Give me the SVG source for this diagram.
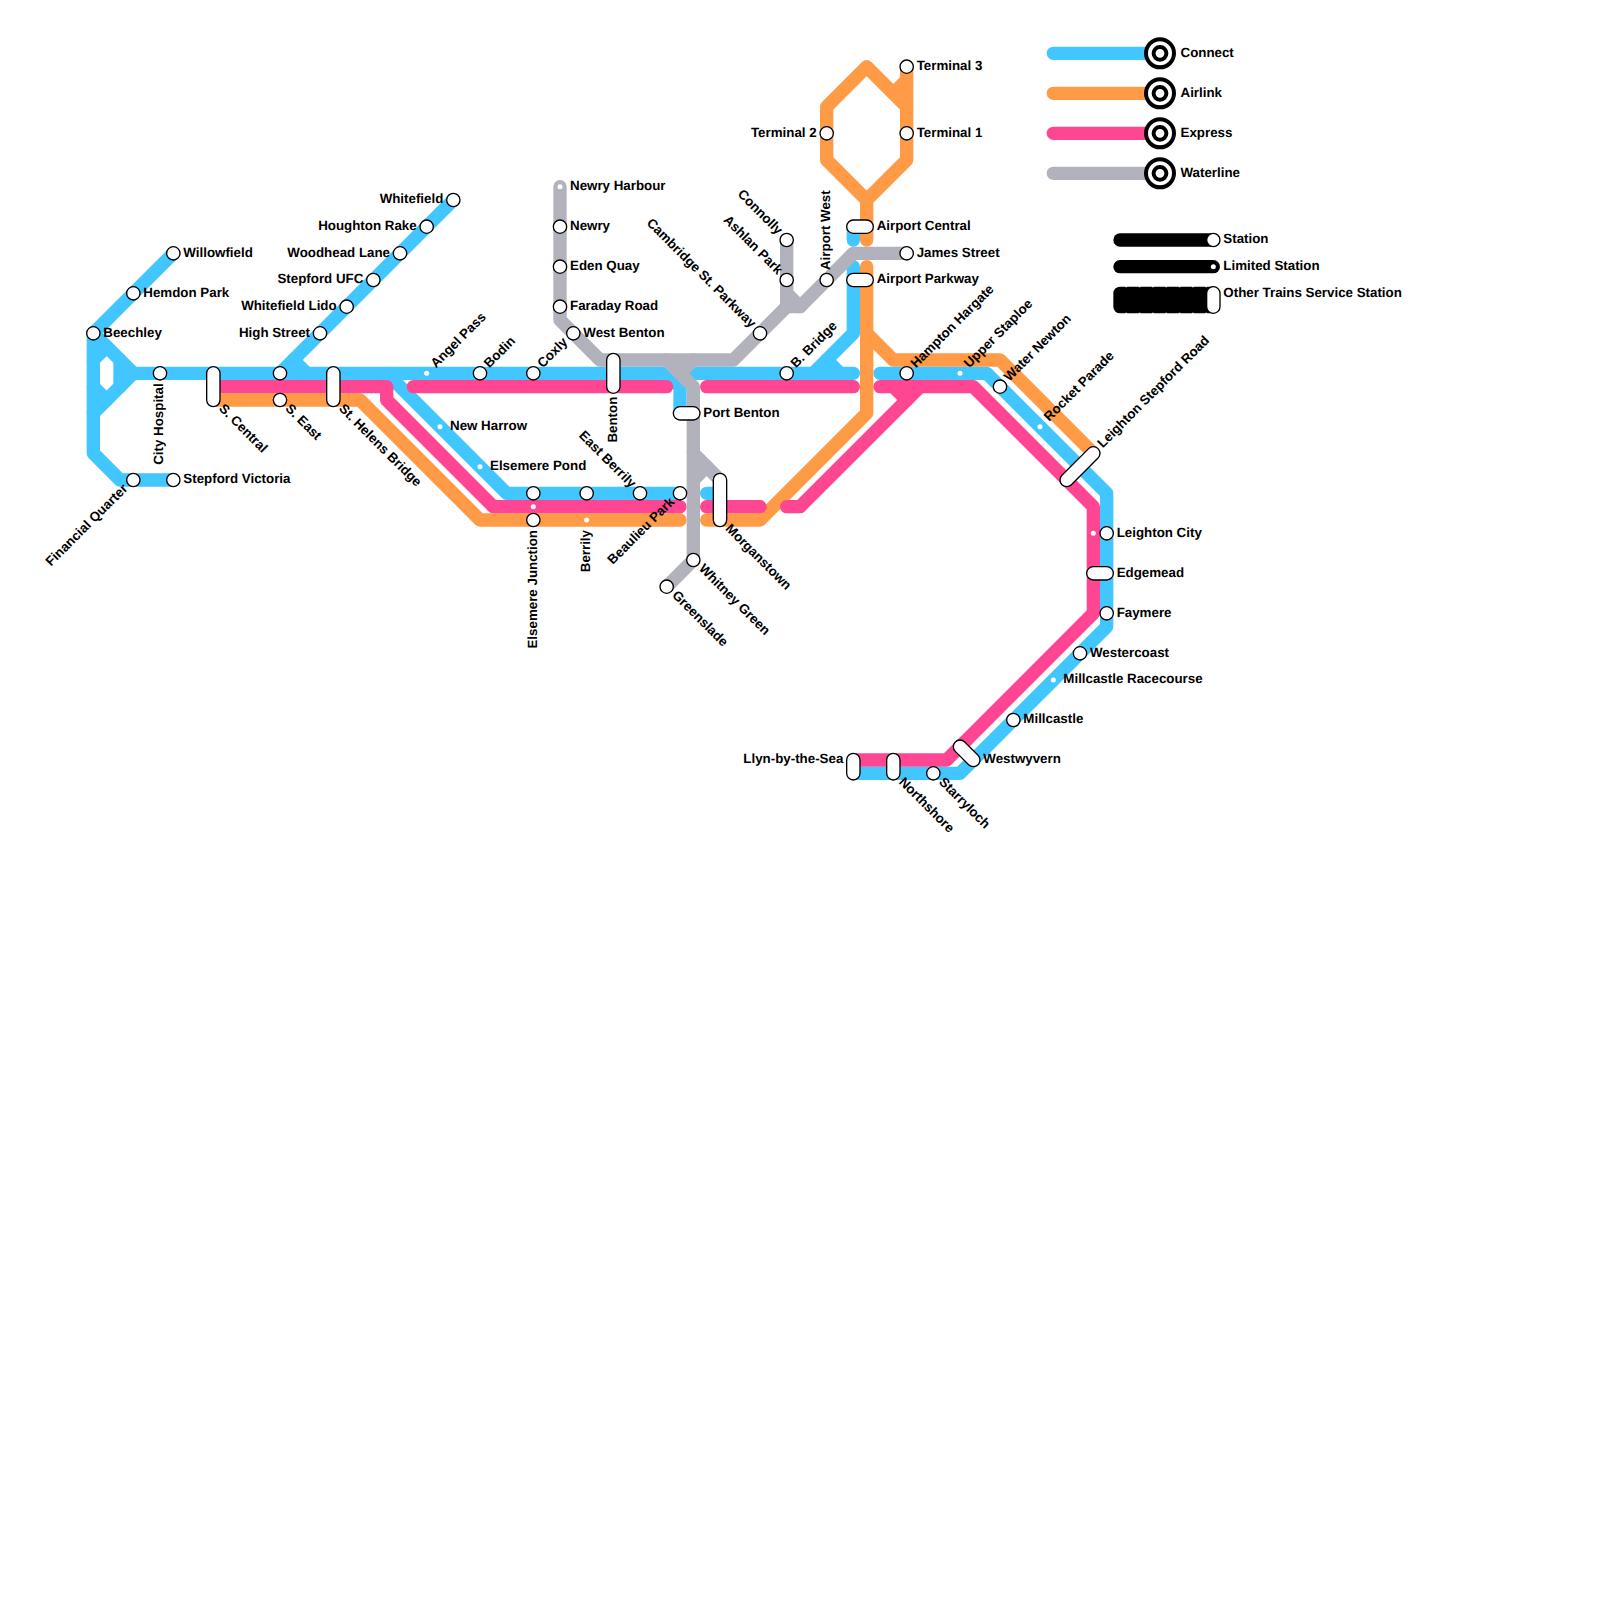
<svg xmlns="http://www.w3.org/2000/svg" width="1600" height="1600" viewBox="0 0 1600 1600">
<style>
.l{fill:none;stroke-width:13.33;stroke-linecap:round;stroke-linejoin:round}
.b{stroke:#42c6ff}.o{stroke:#ff9a47}.p{stroke:#ff4692}.g{stroke:#b2b2bc}.k{stroke:#000}
.s{fill:#fff;stroke:#000;stroke-width:1.33}
.d{fill:#fff}
.t{fill:#fff;stroke:#000;stroke-width:4}
text{font-family:"Liberation Sans",Arial,sans-serif;font-size:13.33px;font-weight:700;fill:#000;text-rendering:geometricPrecision}
.e{text-anchor:end}
</style>
<rect width="1600" height="1600" fill="#fff"/>
<g id="connectors">
<g id="line-connect">
<path class="l b" d="M173.33 253.33L93.33 333.33V453.33L120 480H173.33"/>
<path class="l b" d="M93.33 333.33L133.33 373.33H666.67L680 386.67V413.33"/>
<path class="l b" d="M93.33 413.33L133.33 373.33"/>
<path class="l b" d="M120 360V386.67"/>
<path class="l b" d="M93.33 360L106.67 346.67"/>
<path class="l b" d="M93.33 386.67L106.67 400"/>
<path class="l b" d="M453.33 200L280 373.33"/>
<path class="l b" d="M293.33 360L306.67 373.33"/>
<path class="l b" d="M386.67 373.33L506.67 493.33H680"/>
<path class="l b" d="M706.67 493.33H720"/>
<path class="l b" d="M693.33 373.33H853.33"/>
<path class="l b" d="M813.33 373.33L853.33 333.33V266.67"/>
<path class="l b" d="M826.67 360L840 373.33"/>
<path class="l b" d="M853.33 226.67V240"/>
<path class="l b" d="M880 373.33H986.67L1106.67 493.33V626.67L960 773.33H853.33"/>
</g>
<g id="line-airlink">
<path class="l o" d="M213.33 400H360L480 520H680"/>
<path class="l o" d="M706.67 520H760L866.67 413.33V266.67"/>
<path class="l o" d="M866.67 333.33L893.33 360H1000L1093.33 453.33"/>
<path class="l o" d="M866.67 240V200L826.67 160V106.67L866.67 66.67L906.67 106.67V160L866.67 200"/>
<path class="l o" d="M906.67 66.67V106.67"/>
<path class="l o" d="M906.67 80L893.33 93.33"/>
</g>
<g id="line-express">
<path class="l p" d="M213.33 386.67H386.67V400L493.33 506.67H680"/>
<path class="l p" d="M413.33 386.67H666.67"/>
<path class="l p" d="M706.67 386.67H853.33"/>
<path class="l p" d="M706.67 506.67H760"/>
<path class="l p" d="M786.67 506.67H800L920 386.67"/>
<path class="l p" d="M880 386.67H973.33L1093.33 506.67V613.33L946.67 760H853.33"/>
<path class="l p" d="M893.33 386.67L906.67 400"/>
</g>
<g id="line-waterline">
<path class="l g" d="M560 186.67V320L600 360H733.33L786.67 306.67H800L853.33 253.33H906.67"/>
<path class="l g" d="M786.67 240V306.67"/>
<path class="l g" d="M786.67 293.33L800 306.67"/>
<path class="l g" d="M666.67 360L693.33 386.67V560L666.67 586.67"/>
<path class="l g" d="M693.33 360L680 373.33"/>
<path class="l g" d="M693.33 453.33L720 480"/>
<path class="l g" d="M706.67 466.67L693.33 480"/>
</g>
</g>
<g id="legend-lines">
<path class="l b" d="M1053.33 53.33H1160"/>
<path class="l o" d="M1053.33 93.33H1160"/>
<path class="l p" d="M1053.33 133.33H1160"/>
<path class="l g" d="M1053.33 173.33H1160"/>
<path class="l k" d="M1120 240H1213.33"/>
<path class="l k" d="M1120 266.67H1213.33"/>
<path class="l k" d="M1120 293.33H1213.33V306.67H1120Z"/>
<path fill="none" stroke="#fff" stroke-width="1.2" stroke-dasharray="1.6 11.73" d="M1125.5 286.67H1213M1125.5 313.33H1213"/>
</g>
<g id="legend-connect"><circle class="t" cx="1160" cy="53.33" r="14"/><circle class="t" cx="1160" cy="53.33" r="6.4"/><text x="1180.5" y="56.5">Connect</text></g>
<g id="legend-airlink"><circle class="t" cx="1160" cy="93.33" r="14"/><circle class="t" cx="1160" cy="93.33" r="6.4"/><text x="1180.5" y="96.5">Airlink</text></g>
<g id="legend-express"><circle class="t" cx="1160" cy="133.33" r="14"/><circle class="t" cx="1160" cy="133.33" r="6.4"/><text x="1180.5" y="136.5">Express</text></g>
<g id="legend-waterline"><circle class="t" cx="1160" cy="173.33" r="14"/><circle class="t" cx="1160" cy="173.33" r="6.4"/><text x="1180.5" y="176.5">Waterline</text></g>
<g id="legend-station"><circle class="s" cx="1213.33" cy="240" r="6.67"/><text x="1223.33" y="243.2">Station</text></g>
<g id="legend-limited"><circle class="d" cx="1213.33" cy="266.67" r="2.5"/><text x="1223.33" y="269.9">Limited Station</text></g>
<g id="legend-other"><rect class="s" x="1206.67" y="286.67" width="13.33" height="26.67" rx="6.67"/><text x="1223.33" y="296.5">Other Trains Service Station</text></g>

<g id="beechley"><circle class="s" cx="93.33" cy="333.33" r="6.67"/><text x="103.33" y="336.5">Beechley</text></g>
<g id="hemdon-park"><circle class="s" cx="133.33" cy="293.33" r="6.67"/><text x="143.33" y="296.5">Hemdon Park</text></g>
<g id="willowfield"><circle class="s" cx="173.33" cy="253.33" r="6.67"/><text x="183.33" y="256.5">Willowfield</text></g>
<g id="city-hospital"><circle class="s" cx="160" cy="373.33" r="6.67"/><text class="e" transform="rotate(-90 160 373.33)" x="150" y="376.5">City Hospital</text></g>
<g id="financial-quarter"><circle class="s" cx="133.33" cy="480" r="6.67"/><text class="e" transform="rotate(-45 133.33 480)" x="123.33" y="483.2">Financial Quarter</text></g>
<g id="stepford-victoria"><circle class="s" cx="173.33" cy="480" r="6.67"/><text x="183.33" y="483.2">Stepford Victoria</text></g>
<g id="s-central"><rect class="s" x="206.67" y="366.67" width="13.33" height="40" rx="6.67"/><text transform="rotate(45 213.33 400)" x="223.33" y="403.2">S. Central</text></g>
<g id="s-east"><circle class="s" cx="280" cy="373.33" r="6.67"/><circle class="s" cx="280" cy="400" r="6.67"/><text transform="rotate(45 280 400)" x="290" y="403.2">S. East</text></g>
<g id="st-helens-bridge"><rect class="s" x="326.67" y="366.67" width="13.33" height="40" rx="6.67"/><text transform="rotate(45 333.33 400)" x="343.33" y="403.2">St. Helens Bridge</text></g>
<g id="high-street"><circle class="s" cx="320" cy="333.33" r="6.67"/><text class="e" x="310" y="336.5">High Street</text></g>
<g id="whitefield-lido"><circle class="s" cx="346.67" cy="306.67" r="6.67"/><text class="e" x="336.67" y="309.9">Whitefield Lido</text></g>
<g id="stepford-ufc"><circle class="s" cx="373.33" cy="280" r="6.67"/><text class="e" x="363.33" y="283.2">Stepford UFC</text></g>
<g id="woodhead-lane"><circle class="s" cx="400" cy="253.33" r="6.67"/><text class="e" x="390" y="256.5">Woodhead Lane</text></g>
<g id="houghton-rake"><circle class="s" cx="426.67" cy="226.67" r="6.67"/><text class="e" x="416.67" y="229.9">Houghton Rake</text></g>
<g id="whitefield"><circle class="s" cx="453.33" cy="200" r="6.67"/><text class="e" x="443.33" y="203.2">Whitefield</text></g>
<g id="angel-pass"><circle class="d" cx="426.67" cy="373.33" r="2.5"/><text transform="rotate(-45 426.67 373.33)" x="436.67" y="376.5">Angel Pass</text></g>
<g id="new-harrow"><circle class="d" cx="440" cy="426.67" r="2.5"/><text x="450" y="429.9">New Harrow</text></g>
<g id="elsemere-pond"><circle class="d" cx="480" cy="466.67" r="2.5"/><text x="490" y="469.9">Elsemere Pond</text></g>
<g id="bodin"><circle class="s" cx="480" cy="373.33" r="6.67"/><text transform="rotate(-45 480 373.33)" x="490" y="376.5">Bodin</text></g>
<g id="coxly"><circle class="s" cx="533.33" cy="373.33" r="6.67"/><text transform="rotate(-45 533.33 373.33)" x="543.33" y="376.5">Coxly</text></g>
<g id="elsemere-junction"><circle class="s" cx="533.33" cy="493.33" r="6.67"/><circle class="d" cx="533.33" cy="506.67" r="2.5"/><circle class="s" cx="533.33" cy="520" r="6.67"/><text class="e" transform="rotate(-90 533.33 520)" x="523.33" y="523.2">Elsemere Junction</text></g>
<g id="berrily"><circle class="s" cx="586.67" cy="493.33" r="6.67"/><circle class="d" cx="586.67" cy="520" r="2.5"/><text class="e" transform="rotate(-90 586.67 520)" x="576.67" y="523.2">Berrily</text></g>
<g id="east-berrily"><circle class="s" cx="640" cy="493.33" r="6.67"/><text class="e" transform="rotate(45 640 493.33)" x="630" y="496.5">East Berrily</text></g>
<g id="beaulieu-park"><circle class="s" cx="680" cy="493.33" r="6.67"/><text class="e" transform="rotate(-45 680 493.33)" x="670" y="496.5">Beaulieu Park</text></g>
<g id="benton"><rect class="s" x="606.67" y="353.33" width="13.33" height="40" rx="6.67"/><text class="e" transform="rotate(-90 613.33 386.67)" x="603.33" y="389.9">Benton</text></g>
<g id="port-benton"><rect class="s" x="673.33" y="406.67" width="26.67" height="13.33" rx="6.67"/><text x="703.33" y="416.5">Port Benton</text></g>
<g id="whitney-green"><circle class="s" cx="693.33" cy="560" r="6.67"/><text transform="rotate(45 693.33 560)" x="703.33" y="563.2">Whitney Green</text></g>
<g id="greenslade"><circle class="s" cx="666.67" cy="586.67" r="6.67"/><text transform="rotate(45 666.67 586.67)" x="676.67" y="589.9">Greenslade</text></g>
<g id="morganstown"><rect class="s" x="713.33" y="473.33" width="13.33" height="53.33" rx="6.67"/><text transform="rotate(45 720 520)" x="730" y="523.2">Morganstown</text></g>
<g id="b-bridge"><circle class="s" cx="786.67" cy="373.33" r="6.67"/><text transform="rotate(-45 786.67 373.33)" x="796.67" y="376.5">B. Bridge</text></g>
<g id="newry-harbour"><circle class="d" cx="560" cy="186.67" r="2.5"/><text x="570" y="189.9">Newry Harbour</text></g>
<g id="newry"><circle class="s" cx="560" cy="226.67" r="6.67"/><text x="570" y="229.9">Newry</text></g>
<g id="eden-quay"><circle class="s" cx="560" cy="266.67" r="6.67"/><text x="570" y="269.9">Eden Quay</text></g>
<g id="faraday-road"><circle class="s" cx="560" cy="306.67" r="6.67"/><text x="570" y="309.9">Faraday Road</text></g>
<g id="west-benton"><circle class="s" cx="573.33" cy="333.33" r="6.67"/><text x="583.33" y="336.5">West Benton</text></g>
<g id="cambridge-st-parkway"><circle class="s" cx="760" cy="333.33" r="6.67"/><text class="e" transform="rotate(45 760 333.33)" x="750" y="336.5">Cambridge St. Parkway</text></g>
<g id="connolly"><circle class="s" cx="786.67" cy="240" r="6.67"/><text class="e" transform="rotate(45 786.67 240)" x="776.67" y="243.2">Connolly</text></g>
<g id="ashlan-park"><circle class="s" cx="786.67" cy="280" r="6.67"/><text class="e" transform="rotate(45 786.67 280)" x="776.67" y="283.2">Ashlan Park</text></g>
<g id="airport-west"><circle class="s" cx="826.67" cy="280" r="6.67"/><text transform="rotate(-90 826.67 280)" x="836.67" y="283.2">Airport West</text></g>
<g id="terminal-2"><circle class="s" cx="826.67" cy="133.33" r="6.67"/><text class="e" x="816.67" y="136.5">Terminal 2</text></g>
<g id="terminal-1"><circle class="s" cx="906.67" cy="133.33" r="6.67"/><text x="916.67" y="136.5">Terminal 1</text></g>
<g id="terminal-3"><circle class="s" cx="906.67" cy="66.67" r="6.67"/><text x="916.67" y="69.9">Terminal 3</text></g>
<g id="airport-central"><rect class="s" x="846.67" y="220" width="26.67" height="13.33" rx="6.67"/><text x="876.67" y="229.9">Airport Central</text></g>
<g id="james-street"><circle class="s" cx="906.67" cy="253.33" r="6.67"/><text x="916.67" y="256.5">James Street</text></g>
<g id="airport-parkway"><rect class="s" x="846.67" y="273.33" width="26.67" height="13.33" rx="6.67"/><text x="876.67" y="283.2">Airport Parkway</text></g>
<g id="hampton-hargate"><circle class="s" cx="906.67" cy="373.33" r="6.67"/><text transform="rotate(-45 906.67 373.33)" x="916.67" y="376.5">Hampton Hargate</text></g>
<g id="upper-staploe"><circle class="d" cx="960" cy="373.33" r="2.5"/><text transform="rotate(-45 960 373.33)" x="970" y="376.5">Upper Staploe</text></g>
<g id="water-newton"><circle class="s" cx="1000" cy="386.67" r="6.67"/><text transform="rotate(-45 1000 386.67)" x="1010" y="389.9">Water Newton</text></g>
<g id="rocket-parade"><circle class="d" cx="1040" cy="426.67" r="2.5"/><text transform="rotate(-45 1040 426.67)" x="1050" y="429.9">Rocket Parade</text></g>
<g id="leighton-stepford-road"><rect class="s" x="1054.48" y="460" width="51.04" height="13.33" rx="6.67" transform="rotate(-45 1080 466.67)"/><text transform="rotate(-45 1093.33 453.33)" x="1103.33" y="456.5">Leighton Stepford Road</text></g>
<g id="leighton-city"><circle class="d" cx="1093.33" cy="533.33" r="2.5"/><circle class="s" cx="1106.67" cy="533.33" r="6.67"/><text x="1116.67" y="536.5">Leighton City</text></g>
<g id="edgemead"><rect class="s" x="1086.67" y="566.67" width="26.67" height="13.33" rx="6.67"/><text x="1116.67" y="576.5">Edgemead</text></g>
<g id="faymere"><circle class="s" cx="1106.67" cy="613.33" r="6.67"/><text x="1116.67" y="616.5">Faymere</text></g>
<g id="westercoast"><circle class="s" cx="1080" cy="653.33" r="6.67"/><text x="1090" y="656.5">Westercoast</text></g>
<g id="millcastle-racecourse"><circle class="d" cx="1053.33" cy="680" r="2.5"/><text x="1063.33" y="683.2">Millcastle Racecourse</text></g>
<g id="millcastle"><circle class="s" cx="1013.33" cy="720" r="6.67"/><text x="1023.33" y="723.2">Millcastle</text></g>
<g id="westwyvern"><rect class="s" x="950.57" y="746.67" width="32.19" height="13.33" rx="6.67" transform="rotate(45 966.67 753.33)"/><text x="983.33" y="763.2">Westwyvern</text></g>
<g id="starryloch"><circle class="s" cx="933.33" cy="773.33" r="6.67"/><text transform="rotate(45 933.33 773.33)" x="943.33" y="776.5">Starryloch</text></g>
<g id="northshore"><rect class="s" x="886.67" y="753.33" width="13.33" height="26.67" rx="6.67"/><text transform="rotate(45 893.33 773.33)" x="903.33" y="776.5">Northshore</text></g>
<g id="llyn-by-the-sea"><rect class="s" x="846.67" y="753.33" width="13.33" height="26.67" rx="6.67"/><text class="e" x="843.33" y="763.2">Llyn-by-the-Sea</text></g>
</svg>
